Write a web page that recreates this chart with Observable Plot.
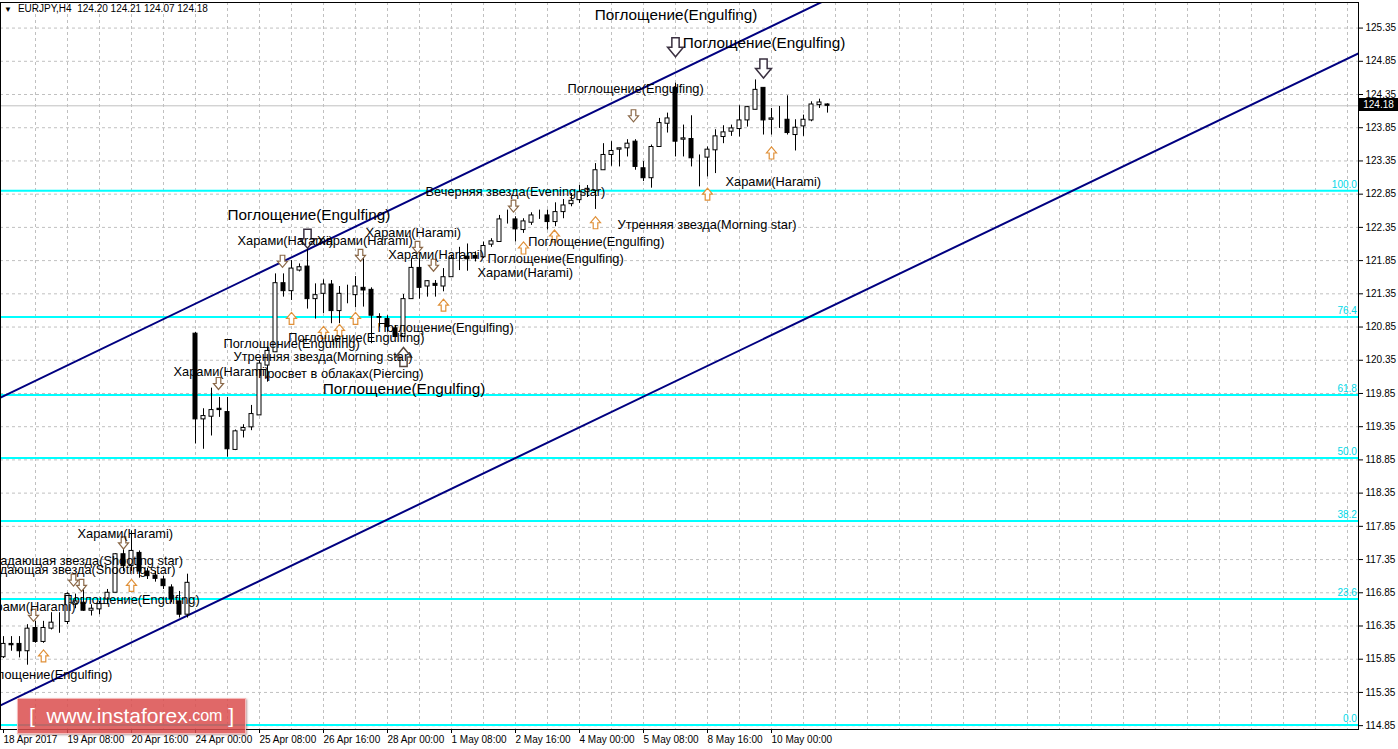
<!DOCTYPE html>
<html><head><meta charset="utf-8">
<script src="https://cdn.jsdelivr.net/npm/d3@7"></script>
<script src="https://cdn.jsdelivr.net/npm/@observablehq/plot@0.6"></script>
<style>
body{margin:0;background:#fff;}
#wrap{position:relative;width:1398px;height:749px;overflow:hidden;background:#fff;}
#hdr{position:absolute;left:4px;top:3px;font:10px "Liberation Sans",Arial,sans-serif;color:#000;white-space:pre;}
#hdr .tri{font-size:8px;display:inline-block;margin-right:6px;}
#wm{position:absolute;left:17px;top:698px;width:227px;height:34px;background:rgba(218,78,78,0.85);border:1px solid rgba(255,220,220,0.7);box-shadow:1px 1px 2px rgba(120,60,60,0.5);color:#fff;font:21px "Liberation Sans",Arial,sans-serif;display:flex;align-items:center;justify-content:center;}
#wm .com{font-size:16px;}
#bid{position:absolute;left:1359px;width:39px;height:13px;background:#000;color:#fff;font:10px "Liberation Sans",Arial,sans-serif;line-height:13px;text-align:center;}
</style></head>
<body><div id="wrap"></div>
<script>
// ---- OHLC data, EURJPY H4, one entry per bar (bar 0 = 18 Apr 2017 00:00) ----
const openP = [115.88,116.08,116.08,115.97,116.32,116.11,116.31,116.42,116.41,116.67,116.70,116.58,116.60,116.75,116.85,117.43,117.25,117.45,117.17,117.11,117.05,116.93,116.72,116.52,
120.75,119.46,119.50,119.62,119.57,119.00,119.29,119.34,119.52,120.27,120.47,121.51,121.39,121.70,121.76,121.27,121.35,121.49,121.09,121.34,121.33,121.44,121.41,121.00,120.97,120.83,
120.70,121.27,121.74,121.46,121.50,121.46,121.60,121.89,121.91,121.92,121.90,122.09,122.13,122.47,122.47,122.31,122.42,122.55,122.53,122.43,122.58,122.70,122.76,122.88,122.90,
123.21,123.44,123.52,123.54,123.64,123.24,123.09,123.56,123.91,124.45,123.67,123.68,123.41,123.40,123.51,123.71,123.79,123.83,123.96,124.12,124.45,123.97,123.98,123.97,123.74,123.87,123.96,124.19,124.20];
const highP = [116.19,116.19,116.19,116.37,116.42,116.42,116.55,116.55,116.85,116.83,116.92,116.67,116.72,116.90,117.44,117.55,117.78,117.48,117.22,117.17,117.10,116.97,116.87,117.13,
120.77,119.62,119.93,119.79,119.79,119.30,119.38,119.67,120.34,120.55,121.65,121.65,121.85,121.80,122.10,121.50,121.56,121.55,121.46,121.48,121.61,121.88,121.44,121.05,121.02,120.87,
121.34,121.88,121.88,121.55,121.55,121.73,121.93,122.05,122.10,121.98,122.13,122.18,122.53,122.61,122.51,122.48,122.57,122.61,122.61,122.72,122.77,122.86,122.98,122.98,123.31,
123.61,123.64,123.54,123.67,123.67,123.34,123.59,123.99,124.07,124.52,123.89,124.03,123.44,123.56,123.82,123.88,123.89,124.18,124.17,124.57,124.45,124.14,124.17,124.33,123.97,124.04,124.24,124.28,124.21];
const lowP = [115.86,115.97,115.87,115.76,116.09,116.09,116.29,116.24,116.37,116.61,116.57,116.50,116.52,116.67,116.85,117.17,117.17,117.07,117.05,117.01,116.90,116.70,116.47,116.47,
119.09,119.01,119.21,119.49,118.89,118.99,119.18,119.29,119.52,120.02,120.47,121.30,121.25,121.68,121.12,120.97,121.05,120.90,120.90,121.20,121.14,121.15,120.60,120.85,120.77,120.69,
120.69,121.27,121.27,121.30,121.30,121.38,121.60,121.70,121.69,121.83,121.88,122.05,122.13,122.40,122.13,122.26,122.38,122.47,122.31,122.36,122.48,122.66,122.71,122.80,122.62,
123.21,123.27,123.26,123.41,123.21,123.04,122.94,123.56,123.77,123.41,123.41,123.26,122.96,123.11,123.16,123.61,123.72,123.71,123.86,124.12,123.74,123.74,123.84,123.74,123.50,123.72,123.94,124.14,124.07];
const closeP = [116.08,116.06,115.97,116.31,116.11,116.32,116.40,116.42,116.83,116.72,116.58,116.61,116.68,116.85,117.43,117.25,117.48,117.17,117.10,117.06,116.95,116.75,116.52,117.00,
119.46,119.51,119.60,119.60,119.01,119.28,119.33,119.54,120.30,120.49,121.51,121.39,121.73,121.75,121.27,121.33,121.49,121.09,121.35,121.34,121.46,121.40,121.02,120.99,120.85,120.70,
121.27,121.74,121.44,121.54,121.47,121.60,121.88,121.89,121.87,121.88,122.07,122.14,122.47,122.47,122.32,122.44,122.53,122.55,122.43,122.58,122.68,122.75,122.88,122.93,123.21,
123.44,123.50,123.54,123.61,123.26,123.09,123.56,123.92,123.99,123.64,123.69,123.39,123.41,123.52,123.72,123.78,123.84,123.96,124.16,124.42,123.96,123.99,123.98,123.77,123.85,123.97,124.20,124.23,124.18];

const symbolName = "EURJPY,H4";
const bidPrice = 124.18;

// ---- axes ----
const xTickBars = [0,8,16,24,32,40,48,56,64,72,80,88,96];
const xTickLabels = ["18 Apr 2017","19 Apr 08:00","20 Apr 16:00","24 Apr 00:00","25 Apr 08:00","26 Apr 16:00","28 Apr 00:00","1 May 08:00","2 May 16:00","4 May 00:00","5 May 08:00","8 May 16:00","10 May 00:00"];
const yTicks = [114.85,115.35,115.85,116.35,116.85,117.35,117.85,118.35,118.85,119.35,119.85,120.35,120.85,121.35,121.85,122.35,122.85,123.35,123.85,124.35,124.85,125.35];

// ---- Fibonacci retracement ----
const fibLow = 114.86, fibHigh = 122.90;
const fibLevels = [0, 23.6, 38.2, 50, 61.8, 76.4, 100];

// ---- channel anchors (bar index, price) ----
const upperChannelBars = [0, 100], upperChannelPrices = [119.81, 125.61];
const lowerChannelBars = [22, 168], lowerChannelPrices = [116.45, 124.89];

// ---- pattern labels (anchor bar, price) ----
const bigLabelText = ["Поглощение(Engulfing)","Поглощение(Engulfing)","Поглощение(Engulfing)","Поглощение(Engulfing)"];
const bigLabelBar = [73.9, 84.9, 28, 39.9];
const bigLabelPrice = [125.55, 125.12, 122.53, 119.91];

const labelText = ["Поглощение(Engulfing)","Харами(Harami)","Утренняя звезда(Morning star)","Вечерняя звезда(Evening star)","Поглощение(Engulfing)","Поглощение(Engulfing)","Харами(Harami)",
"Харами(Harami)","Харами(Harami)","Харами(Harami)","Харами(Harami)","Поглощение(Engulfing)","Поглощение(Engulfing)","Поглощение(Engulfing)","Утренняя звезда(Morning star)","Харами(Harami)","Харами(Harami)","Поглощение(Engulfing)"];
const labelBar = [70.5,90.25,76.75,52.75,65.6,60.5,59.25, 29.25,39.2,45.25,48.1,46.75,35.6,27.5,28.75,21.25,9.25,7.5];
const labelPrice = [124.43,123.04,122.38,122.88,122.135,121.87,121.66, 122.14,122.14,122.26,121.94,120.83,120.69,120.59,120.40,120.17,117.73,116.74];

// labels anchored at their right end
const endLabelText = ["Падающая звезда(Shooting star)","Падающая звезда(Shooting star)","Харами(Harami)","Поглощение(Engulfing)","Просвет в облаках(Piercing)"];
const endLabelBar = [22.45, 21.5, 9, 13.6, 52.5];
const endLabelPrice = [117.33, 117.19, 116.64, 115.61, 120.15];

// ---- signal arrows (bar, price) ----
const downArrowBar = [3.75, 8.75, 9.75, 15, 26.875, 34.875, 44.625, 51.75, 53.75, 63.75, 78.75];
const downArrowPrice = [116.51, 117.04, 116.96, 117.60, 120.00, 121.84, 121.93, 122.05, 121.78, 122.67, 124.03];
const bigDownArrowBar = [38, 84, 95];
const bigDownArrowPrice = [122.18, 125.06, 124.74];
const upArrowBar = [5, 16, 36, 40, 42, 44, 55, 65, 68.875, 74, 88, 96];
const upArrowPrice = [115.90, 116.96, 120.98, 120.77, 120.80, 120.98, 121.18, 122.04, 122.22, 122.42, 122.85, 123.47];
const bigUpArrowBar = [50];
const bigUpArrowPrice = [120.40];

// ---------------------------------------------------------------
const candles = openP.map((o, i) => ({i, o, h: highP[i], l: lowP[i], c: closeP[i]}));
const xDomain = [-0.375, 169.375];
const yDomain = [114.792, 125.735];

function channelPts(bars, prices) {
  const k = (prices[1] - prices[0]) / (bars[1] - bars[0]);
  return xDomain.map(b => ({bar: b, price: prices[0] + k * (b - bars[0])}));
}
const zip = (t, b, p) => t.map((s, i) => ({text: s, bar: b[i], price: p[i]}));
const pts = (b, p) => b.map((v, i) => ({bar: v, price: p[i]}));
const fibData = fibLevels.map(l => ({level: l, price: fibLow + (fibHigh - fibLow) * l / 100}));
const gridBars = d3.range(4, 170, 4);

function arrow(dir) {
  return {draw(ctx, size) {
    const s = Math.sqrt(size / Math.PI) / 6, d = dir;
    ctx.moveTo(-2.3 * s, -6 * s * d);
    ctx.lineTo(2.3 * s, -6 * s * d);
    ctx.lineTo(2.3 * s, 0);
    ctx.lineTo(5 * s, 0);
    ctx.lineTo(0, 6 * s * d);
    ctx.lineTo(-5 * s, 0);
    ctx.lineTo(-2.3 * s, 0);
    ctx.closePath();
  }};
}
const arrowDown = arrow(1), arrowUp = arrow(-1);
const LF = "Liberation Sans, Arial, sans-serif";

const chart = Plot.plot({
  width: 1398, height: 749,
  marginLeft: 0, marginRight: 40, marginTop: 2, marginBottom: 20,
  x: {domain: xDomain},
  y: {domain: yDomain},
  style: {fontFamily: LF, fontSize: "10px", background: "#fff", color: "#000"},
  marks: [
    Plot.ruleY(yTicks, {stroke: "#c0c0c0", strokeDasharray: "3,3"}),
    Plot.ruleX(gridBars, {stroke: "#c0c0c0", strokeDasharray: "3,3"}),
    Plot.ruleY([bidPrice], {stroke: "#c0c0c0"}),
    Plot.ruleY(fibData, {y: "price", stroke: "#00ffff", strokeWidth: 2}),
    Plot.text(fibData, {x: xDomain[1] - 0.2, y: "price", text: d => d.level.toFixed(1), textAnchor: "end", dy: -6, fill: "#00d8e8", fontSize: 10}),
    Plot.line(channelPts(upperChannelBars, upperChannelPrices), {x: "bar", y: "price", stroke: "#000080", strokeWidth: 2, clip: true}),
    Plot.line(channelPts(lowerChannelBars, lowerChannelPrices), {x: "bar", y: "price", stroke: "#000080", strokeWidth: 2, clip: true}),
    Plot.ruleX(candles, {x: "i", y1: "l", y2: "h", stroke: "#000", strokeWidth: 1}),
    Plot.rect(candles, {x1: d => d.i - 0.25, x2: d => d.i + 0.25, y1: "o", y2: "c", fill: d => d.c >= d.o ? "#fff" : "#000", stroke: "#000", strokeWidth: 1}),
    Plot.dot(pts(downArrowBar, downArrowPrice), {x: "bar", y: "price", symbol: arrowDown, r: 6, fill: "#fff", stroke: "#8a6848", strokeWidth: 1.2}),
    Plot.dot(pts(bigDownArrowBar, bigDownArrowPrice), {x: "bar", y: "price", symbol: arrowDown, r: 9.5, fill: "#fff", stroke: "#3a3040", strokeWidth: 1.5}),
    Plot.dot(pts(upArrowBar, upArrowPrice), {x: "bar", y: "price", symbol: arrowUp, r: 6, fill: "#fff", stroke: "#e09038", strokeWidth: 1.2}),
    Plot.dot(pts(bigUpArrowBar, bigUpArrowPrice), {x: "bar", y: "price", symbol: arrowUp, r: 9.5, fill: "#fff", stroke: "#5a4a40", strokeWidth: 1.5}),
    Plot.text(zip(bigLabelText, bigLabelBar, bigLabelPrice), {x: "bar", y: "price", text: "text", textAnchor: "start", lineAnchor: "middle", fontSize: 15.3, fill: "#000", fontFamily: LF}),
    Plot.text(zip(labelText, labelBar, labelPrice), {x: "bar", y: "price", text: "text", textAnchor: "start", lineAnchor: "middle", fontSize: 12.8, fill: "#000", fontFamily: LF}),
    Plot.text(zip(endLabelText, endLabelBar, endLabelPrice), {x: "bar", y: "price", text: "text", textAnchor: "end", lineAnchor: "middle", fontSize: 12.8, fill: "#000", fontFamily: LF}),
    Plot.axisX(xTickBars, {anchor: "bottom", tickSize: 4, tickPadding: 2, textAnchor: "start", fontSize: 10, tickFormat: d => xTickLabels[xTickBars.indexOf(d)], label: null}),
    Plot.axisY(yTicks, {anchor: "right", tickSize: 4, tickPadding: 3, fontSize: 10, tickFormat: d => d.toFixed(2), label: null}),
    Plot.frame({stroke: "#000"})
  ]
});

const wrap = document.getElementById("wrap");
wrap.appendChild(chart);

const last = candles[candles.length - 1];
const hdr = document.createElement("div");
hdr.id = "hdr";
hdr.innerHTML = `<span class="tri">▼</span>${symbolName}  ${last.o.toFixed(2)} ${last.h.toFixed(2)} ${last.l.toFixed(2)} ${last.c.toFixed(2)}`;
wrap.appendChild(hdr);

const bid = document.createElement("div");
bid.id = "bid";
bid.textContent = bidPrice.toFixed(2);
bid.style.top = (chart.scale("y").apply(bidPrice) - 7) + "px";
wrap.appendChild(bid);

const wm = document.createElement("div");
wm.id = "wm";
wm.innerHTML = `[&nbsp;&nbsp;www.instaforex<span class="com">.com</span>&nbsp;]`;
wrap.appendChild(wm);
</script>
</body></html>
